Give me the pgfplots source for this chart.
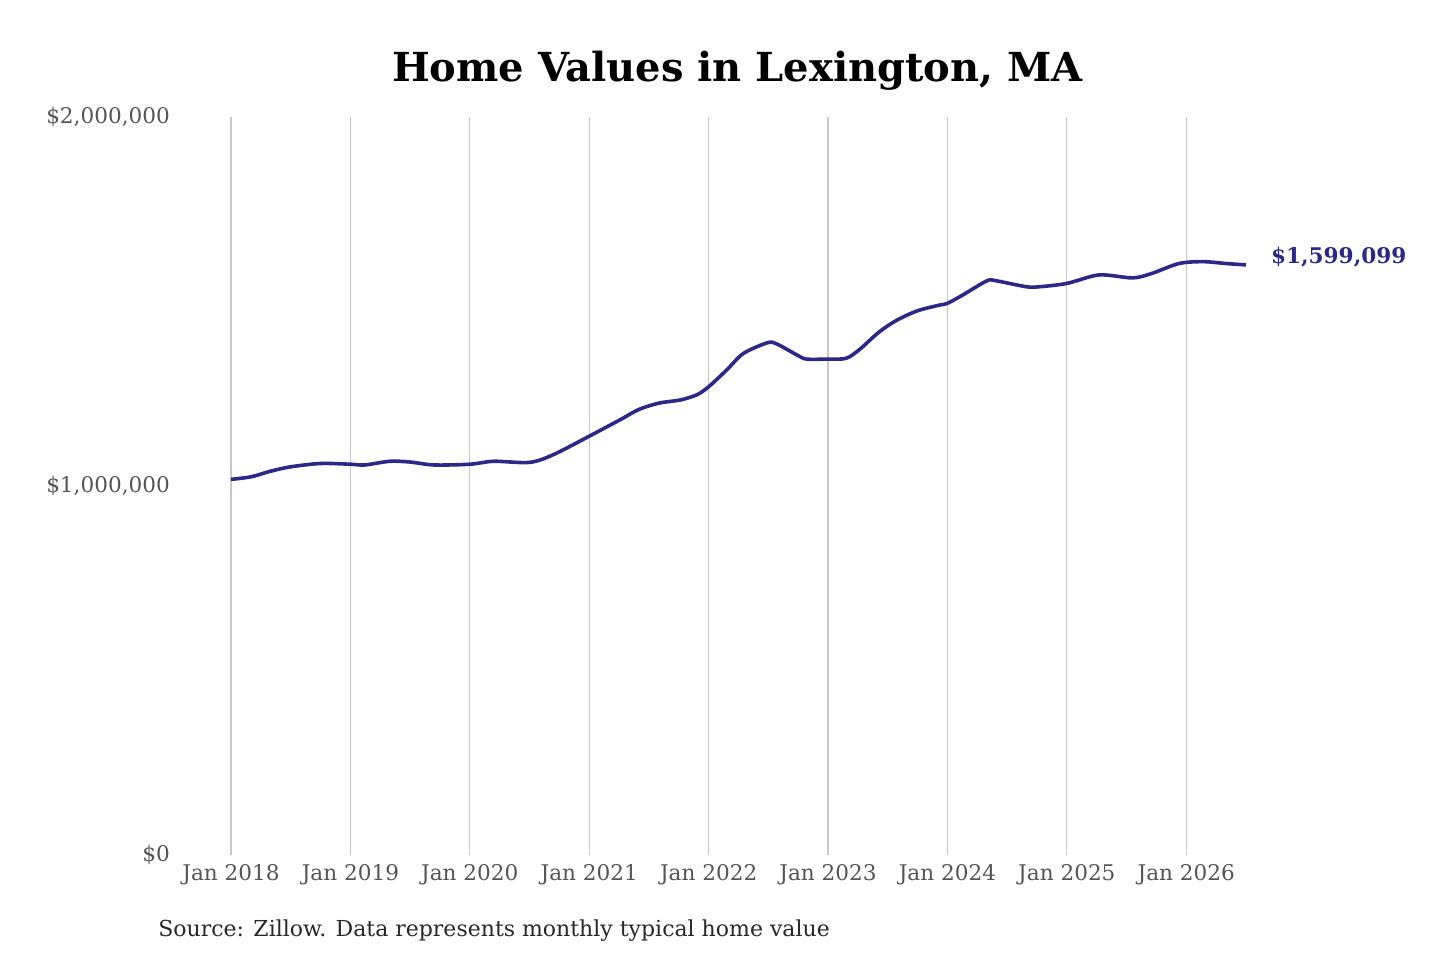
\documentclass[border=0pt]{standalone}
\usepackage{pgfplots}
\pgfplotsset{compat=1.18}
\usepackage{fontspec}
\setmainfont{DejaVu Serif}
\definecolor{lineblue}{RGB}{44,40,135}
\definecolor{ticktext}{RGB}{85,85,85}
\definecolor{gridc}{RGB}{200,200,200}
\definecolor{srctext}{RGB}{40,40,40}
\begin{document}
\begin{tikzpicture}[x=1pt,y=1pt]
\useasboundingbox (0,0) rectangle (720,480);
\begin{axis}[
  at={(115.5pt,52.5pt)}, anchor=south west,
  scale only axis, width=507.5pt, height=369pt,
  xmin=2018, xmax=2026.5, ymin=0, ymax=2000000,
  axis line style={draw=none},
  major tick length=0pt,
  scaled y ticks=false,
  xtick={2018,2019,2020,2021,2022,2023,2024,2025,2026},
  xticklabels={Jan 2018,Jan 2019,Jan 2020,Jan 2021,Jan 2022,Jan 2023,Jan 2024,Jan 2025,Jan 2026},
  ytick={0,1000000,2000000},
  yticklabels={{\$0},{\$1,000,000},{\$2,000,000}},
  xmajorgrids, ymajorgrids=false,
  grid style={gridc, line width=0.6pt},
  xticklabel style={font=\fontsize{10.8}{12}\selectfont, text=ticktext, yshift=-1pt},
  yticklabel style={font=\fontsize{10.8}{12}\selectfont, text=ticktext, anchor=east, xshift=-27pt},
  clip=false,
]
\addplot[lineblue, line width=1.8pt, smooth, tension=0.5] coordinates {
(2018.00,1018000) (2018.17,1025000) (2018.33,1040000) (2018.50,1052000)
(2018.75,1061000) (2019.00,1059000) (2019.12,1057000) (2019.33,1067000)
(2019.50,1065000) (2019.70,1057000) (2020.00,1059000) (2020.20,1067000)
(2020.50,1064000) (2020.70,1085000) (2021.00,1135000) (2021.25,1178000)
(2021.42,1208000) (2021.59,1225000) (2021.76,1233000) (2021.90,1247000)
(2022.00,1269000) (2022.15,1314000) (2022.29,1359000) (2022.49,1388000)
(2022.57,1385000) (2022.74,1355000) (2022.82,1344000) (2023.00,1344000)
(2023.15,1346000) (2023.26,1369000) (2023.43,1418000) (2023.58,1450000)
(2023.75,1475000) (2023.93,1490000) (2024.00,1495000) (2024.13,1518000)
(2024.33,1556000) (2024.41,1556000) (2024.66,1540000) (2024.77,1540000)
(2025.00,1549000) (2025.27,1572000) (2025.55,1564000) (2025.71,1576000)
(2025.94,1603000) (2026.14,1608000) (2026.33,1603000) (2026.50,1599099)
};
\node[anchor=west, text=lineblue, font=\bfseries\fontsize{10.8}{13}\selectfont, xshift=9pt, yshift=4pt] at (axis cs:2026.5,1599099) {\$1,599,099};
\end{axis}
\node[font=\bfseries\fontsize{20}{24}\selectfont, text=black] at (368.75,444.5) {Home Values in Lexington, MA};
\node[anchor=west, inner sep=0pt, font=\fontsize{11}{13}\selectfont, text=srctext] at (79,14.5) {Source: Zillow. Data represents monthly typical home value};
\end{tikzpicture}
\end{document}
